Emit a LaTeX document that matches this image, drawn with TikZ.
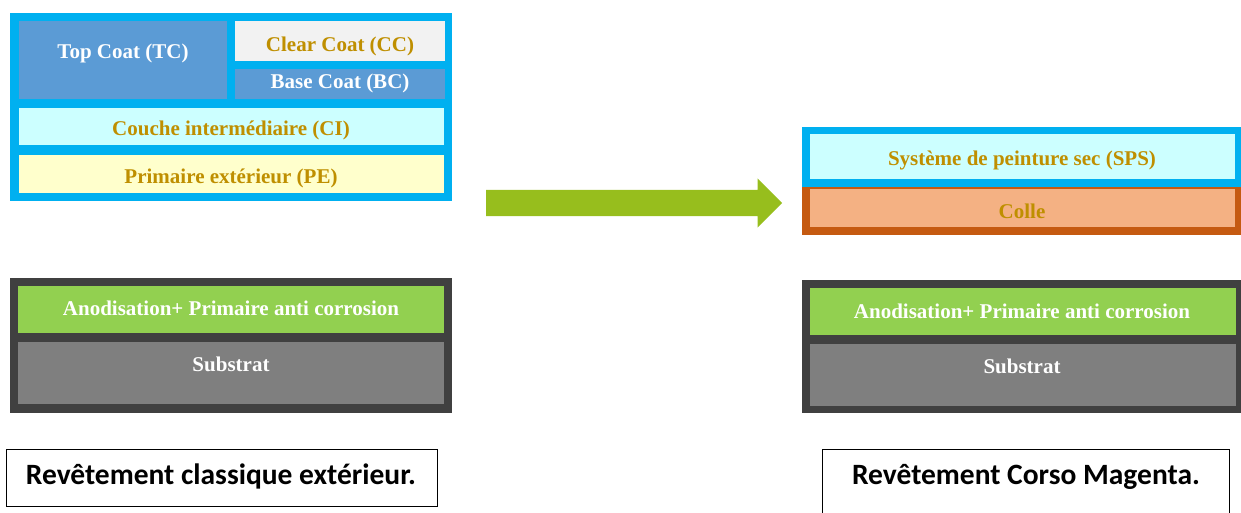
\documentclass[tikz,border=0pt]{standalone}
\usepackage{fontspec}
\setmainfont{Liberation Serif}
\newfontfamily\capfont{Carlito}
\usetikzlibrary{shapes.arrows}

\definecolor{cyanframe}{HTML}{00B0F0}
\definecolor{coatblue}{HTML}{5B9BD5}
\definecolor{clearcoat}{HTML}{F2F2F2}
\definecolor{ciblue}{HTML}{CCFFFF}
\definecolor{peyellow}{HTML}{FFFFCC}
\definecolor{anogreen}{HTML}{92D050}
\definecolor{subgray}{HTML}{7F7F7F}
\definecolor{darkframe}{HTML}{404040}
\definecolor{collefill}{HTML}{F4B183}
\definecolor{colleframe}{HTML}{C55A11}
\definecolor{goldtext}{HTML}{BF8F00}
\definecolor{arrowgreen}{HTML}{97BE1D}

\begin{document}
\begin{tikzpicture}[
        x=1pt,
        y=-1pt,
        font=\fontsize{21}{25}\selectfont\bfseries,
        layer/.style={
            rectangle,
            anchor=north west,
            inner sep=0pt,
            outer sep=0pt,
        },
        wtext/.style={
            anchor=base,
            inner sep=0pt,
            text=white,
        },
        gtext/.style={
            anchor=base,
            inner sep=0pt,
            text=goldtext,
        },
        capbox/.style={
            rectangle,
            anchor=north west,
            draw=black,
            line width=1.3pt,
            inner sep=0pt,
        },
        captext/.style={
            anchor=base,
            inner sep=0pt,
            font=\capfont\fontsize{29.5}{34}\selectfont\bfseries,
        },
    ]
        \useasboundingbox (0,0) rectangle (1241,512);

        % classic coating, paint layers
        \node [layer, fill=cyanframe, minimum width=442pt, minimum height=188pt] (leftpaint) at (10,13) {};
        \node [layer, fill=coatblue, minimum width=208pt, minimum height=78pt] (tc) at (19,21) {};
        \node [layer, fill=clearcoat, minimum width=210pt, minimum height=40pt] (cc) at (235,21) {};
        \node [layer, fill=coatblue, minimum width=210pt, minimum height=30pt] (bc) at (235,69) {};
        \node [layer, fill=ciblue, minimum width=425pt, minimum height=37pt] (ci) at (19,108) {};
        \node [layer, fill=peyellow, minimum width=425pt, minimum height=38pt] (pe) at (19,155) {};

        \node [wtext] (tctext) at (123,58) {Top Coat (TC)};
        \node [gtext] (cctext) at (340,51) {Clear Coat (CC)};
        \node [wtext] (bctext) at (340,88) {Base Coat (BC)};
        \node [gtext] (citext) at (231,135) {Couche intermédiaire (CI)};
        \node [gtext] (petext) at (231,183) {Primaire extérieur (PE)};

        % classic coating, base
        \node [layer, fill=darkframe, minimum width=442pt, minimum height=135pt] (leftbase) at (10,278) {};
        \node [layer, fill=anogreen, minimum width=426pt, minimum height=47pt] (leftano) at (18,286) {};
        \node [layer, fill=subgray, minimum width=426pt, minimum height=62pt] (leftsub) at (18,342) {};

        \node [wtext] (leftanotext) at (231,315) {Anodisation+ Primaire anti corrosion};
        \node [wtext] (leftsubtext) at (231,371) {Substrat};

        % arrow
        \node [single arrow, fill=arrowgreen, inner xsep=0pt, inner ysep=13pt, minimum height=296pt,
            single arrow head extend=11.5pt, anchor=tail] (change) at (486,203) {};

        % Corso Magenta coating
        \node [layer, fill=colleframe, minimum width=439pt, minimum height=48pt] (colleframe) at (802,187) {};
        \node [layer, fill=collefill, minimum width=425pt, minimum height=38pt] (colle) at (810,189) {};
        \node [layer, fill=cyanframe, minimum width=439pt, minimum height=60pt] (spsframe) at (802,127) {};
        \node [layer, fill=ciblue, minimum width=425pt, minimum height=45pt] (sps) at (810,134) {};

        \node [gtext] (spstext) at (1022,165) {Système de peinture sec (SPS)};
        \node [gtext] (colletext) at (1022,218) {Colle};

        \node [layer, fill=darkframe, minimum width=439pt, minimum height=133pt] (rightbase) at (802,280) {};
        \node [layer, fill=anogreen, minimum width=426pt, minimum height=47pt] (rightano) at (810,288) {};
        \node [layer, fill=subgray, minimum width=426pt, minimum height=62pt] (rightsub) at (810,344) {};

        \node [wtext] (rightanotext) at (1022,318) {Anodisation+ Primaire anti corrosion};
        \node [wtext] (rightsubtext) at (1022,373) {Substrat};

        % captions
        \node [capbox, minimum width=431pt, minimum height=57pt] (capleft) at (6,449) {};
        \node [capbox, minimum width=407pt, minimum height=75pt] (capright) at (822,449) {};
        \node [captext] (capleftext) at (221,484) {Revêtement classique extérieur.};
        \node [captext] (caprighttext) at (1026,484) {Revêtement Corso Magenta.};
    \end{tikzpicture}
\end{document}
